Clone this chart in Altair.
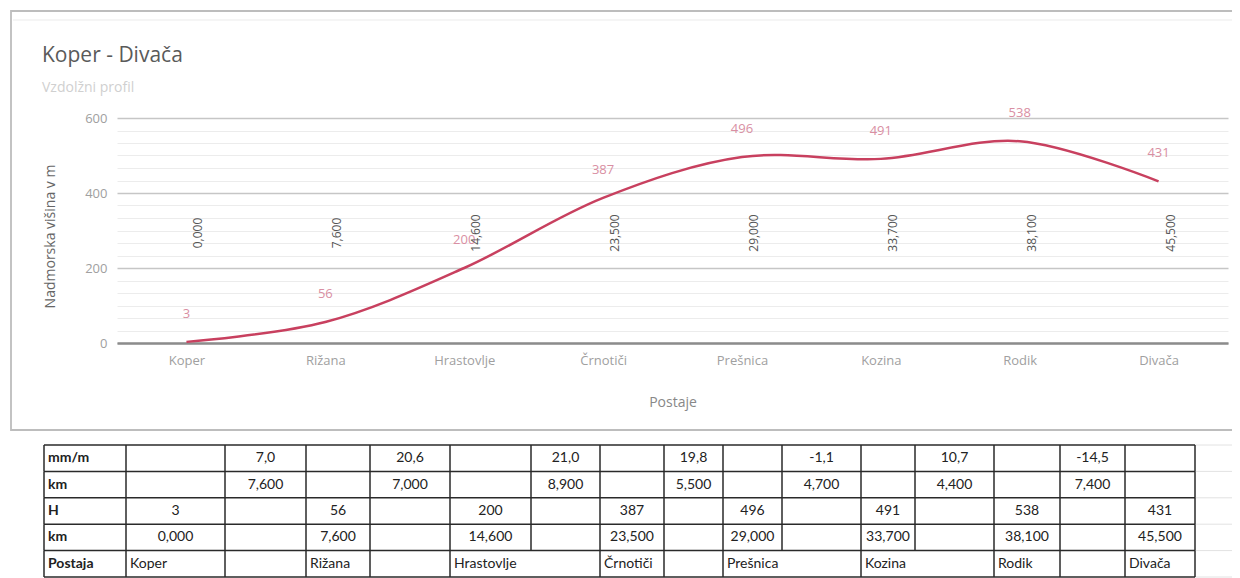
import altair as alt
import pandas as pd

# ---------------- data ----------------
stations = ["Koper", "Rižana", "Hrastovlje", "Črnotiči", "Prešnica", "Kozina", "Rodik", "Divača"]
heights = [3, 56, 200, 387, 496, 491, 538, 431]
km_station = ["0,000", "7,600", "14,600", "23,500", "29,000", "33,700", "38,100", "45,500"]
seg_grade = ["7,0", "20,6", "21,0", "19,8", "-1,1", "10,7", "-14,5"]
seg_km = ["7,600", "7,000", "8,900", "5,500", "4,700", "4,400", "7,400"]
row_labels = ["mm/m", "km", "H", "km", "Postaja"]

chart_title = "Koper - Divača"
chart_subtitle = "Vzdolžni profil"
y_title = "Nadmorska višina v m"
x_title = "Postaje"
y_domain = [0, 600]

# ---------------- layout constants ----------------
W, H = 1111, 225
COL_EDGES = [0, 82, 181, 262, 326, 406, 487, 556, 620, 679, 738, 817, 871, 950, 1016, 1081, 1151]
TABLE_X_RANGE = [-73, 1078]
TABLE_Y_RANGE = [327, 459]
NO_BORDER_LAST_ROW = {6, 10, 12}
FONT = "Open Sans"
TFONT = "Lato"

df = pd.DataFrame({"station": stations, "h": heights, "km": km_station})

grid_vals = [i * 200 / 6 for i in range(19)]
major = "abs(datum.value - round(datum.value/200)*200) < 0.5"

x_enc = alt.X(
    "station:N", sort=stations,
    scale=alt.Scale(type="point", padding=0.5),
    axis=alt.Axis(labelAngle=0, ticks=False, tickSize=0, domainColor="#8c8c8c", domainWidth=2.5,
                  grid=False, labelColor="#a0a0a0", labelFontSize=13, labelFont=FONT,
                  labelPadding=11, title=x_title, titleY=59, titleColor="#888888",
                  titleFontWeight="normal", titleFontSize=14, titleFont=FONT,
                  titleBaseline="middle"),
)
y_enc = alt.Y(
    "h:Q", scale=alt.Scale(domain=y_domain, nice=False, zero=False),
    axis=alt.Axis(values=grid_vals, grid=True,
                  gridColor={"condition": {"test": major, "value": "#c6c6c6"}, "value": "#ececec"},
                  gridWidth={"condition": {"test": major, "value": 1.5}, "value": 1},
                  labelExpr=f"{major} ? datum.label : ''", ticks=False, tickSize=0, domain=False,
                  labelPadding=10, labelColor="#a0a0a0", labelFontSize=13, labelFont=FONT,
                  title=y_title, titleX=-67, titleY=118, titleAngle=270,
                  titleBaseline="middle", titleAlign="center", titleColor="#666",
                  titleFontWeight="normal", titleFontSize=14, titleFont=FONT),
)

one = pd.DataFrame({"a": [0]})
base = alt.Chart(df)

frame = alt.Chart(one).mark_rect(fill=None, stroke="#bdbdbd", strokeWidth=1.8).encode(
    x=alt.value(-106), x2=alt.value(1130), y=alt.value(-107), y2=alt.value(312))
frame_inner = alt.Chart(one).mark_rule(color="#ebebeb", strokeWidth=1).encode(
    x=alt.value(-104), x2=alt.value(1130), y=alt.value(-98))

title_txt = alt.Chart(one).mark_text(align="left", baseline="alphabetic", fontSize=21,
                                     color="#5a5a5a", font=FONT).encode(
    x=alt.value(-75), y=alt.value(-56), text=alt.value(chart_title))
subtitle_txt = alt.Chart(one).mark_text(align="left", baseline="alphabetic", fontSize=14,
                                        color="#d0d0d0", font=FONT).encode(
    x=alt.value(-75), y=alt.value(-26), text=alt.value(chart_subtitle))

line = base.mark_line(interpolate="catmull-rom", color="#c8405f", strokeWidth=2.5).encode(x=x_enc, y=y_enc)
labels = base.mark_text(dy=-28, color="#d98fa3", fontSize=13, font=FONT).encode(
    x=x_enc, y=y_enc, text="h:Q")
km_labels = base.mark_text(angle=270, fontSize=12, color="#555", font=FONT,
                           align="center", baseline="middle").encode(
    x=x_enc, xOffset=alt.value(12), y=alt.value(115), text="km:N")

chart_layer = alt.layer(frame, frame_inner, title_txt, subtitle_txt, line, labels, km_labels)

# ---------------- table ----------------
cells_c = []   # centered numbers
cells_b = []   # bold row labels
cells_n = []   # station names, left aligned
for r, lab in enumerate(row_labels):
    cells_b.append({"xl": COL_EDGES[0], "ym": r + 0.5, "t": lab})
for i in range(len(stations)):
    c = 1 + 2 * i
    mid = (COL_EDGES[c] + COL_EDGES[c + 1]) / 2
    cells_c.append({"xm": mid, "ym": 2.5, "t": str(heights[i])})
    cells_c.append({"xm": mid, "ym": 3.5, "t": km_station[i]})
    cells_n.append({"xl": COL_EDGES[c], "ym": 4.5, "t": stations[i]})
for j in range(len(seg_grade)):
    c = 2 + 2 * j
    mid = (COL_EDGES[c] + COL_EDGES[c + 1]) / 2
    cells_c.append({"xm": mid, "ym": 0.5, "t": seg_grade[j]})
    cells_c.append({"xm": mid, "ym": 1.5, "t": seg_km[j]})

hlines = pd.DataFrame({"x0": [COL_EDGES[0]] * 6, "x1": [COL_EDGES[-1]] * 6, "r": list(range(6))})
vsegs = []
for k, e in enumerate(COL_EDGES):
    for r in range(5):
        if r == 4 and k in NO_BORDER_LAST_ROW:
            continue
        vsegs.append({"e": e, "r0": r, "r1": r + 1})
vlines = pd.DataFrame(vsegs)
faint = pd.DataFrame({"x0": [COL_EDGES[-1]] * 6, "x1": [COL_EDGES[-1] + 60] * 6, "r": list(range(6))})

tx = alt.Scale(domain=[COL_EDGES[0], COL_EDGES[-1]], range=TABLE_X_RANGE, nice=False, zero=False)
ty = alt.Scale(domain=[0, 5], range=TABLE_Y_RANGE, nice=False, zero=False)

t_h = alt.Chart(hlines).mark_rule(color="#2a2a2a", strokeWidth=1.5).encode(
    x=alt.X("x0:Q", scale=tx, axis=None), x2="x1:Q", y=alt.Y("r:Q", scale=ty, axis=None))
t_f = alt.Chart(faint).mark_rule(color="#e2e2e2", strokeWidth=1).encode(
    x=alt.X("x0:Q", scale=tx, axis=None), x2="x1:Q", y=alt.Y("r:Q", scale=ty, axis=None))
t_v = alt.Chart(vlines).mark_rule(color="#2a2a2a", strokeWidth=1.5).encode(
    x=alt.X("e:Q", scale=tx, axis=None), y=alt.Y("r0:Q", scale=ty, axis=None), y2="r1:Q")
t_c = alt.Chart(pd.DataFrame(cells_c)).mark_text(align="center", baseline="middle", fontSize=14,
                                                 color="#222", font=TFONT).encode(
    x=alt.X("xm:Q", scale=tx, axis=None), y=alt.Y("ym:Q", scale=ty, axis=None), text="t:N")
t_b = alt.Chart(pd.DataFrame(cells_b)).mark_text(align="left", baseline="middle", fontSize=14, dx=4,
                                                 color="#222", font=TFONT, fontWeight="bold").encode(
    x=alt.X("xl:Q", scale=tx, axis=None), y=alt.Y("ym:Q", scale=ty, axis=None), text="t:N")
t_n = alt.Chart(pd.DataFrame(cells_n)).mark_text(align="left", baseline="middle", fontSize=14, dx=4,
                                                 color="#222", font=TFONT).encode(
    x=alt.X("xl:Q", scale=tx, axis=None), y=alt.Y("ym:Q", scale=ty, axis=None), text="t:N")

table_layer = alt.layer(t_f, t_h, t_v, t_c, t_b, t_n)

chart = alt.layer(chart_layer, table_layer).resolve_scale(x="independent", y="independent").properties(
    width=W, height=H,
    padding={"left": 109, "top": 110, "right": 4, "bottom": 235},
    autosize=alt.AutoSizeParams(type="none"),
).configure_view(stroke=None)

chart.save("out.html", embed_options={"renderer": "svg", "actions": False})
